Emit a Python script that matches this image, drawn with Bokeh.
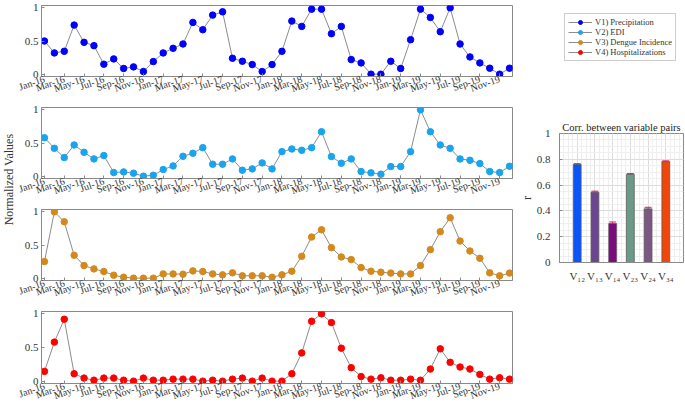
import math
from bokeh.plotting import figure
from bokeh.models import (ColumnDataSource, FixedTicker, Range1d,
                          Legend, LegendItem, Whisker, TeeHead)
from bokeh.layouts import row, column
from bokeh.embed import file_html
from bokeh.resources import INLINE
from bokeh.core.properties import value

# ---------------- data ----------------
month_index = list(range(48))  # Jan-16 ... Dec-19
tick_positions = list(range(0, 48, 2))
tick_labels = ["Jan-16", "Mar-16", "May-16", "Jul-16", "Sep-16", "Nov-16",
               "Jan-17", "Mar-17", "May-17", "Jul-17", "Sep-17", "Nov-17",
               "Jan-18", "Mar-18", "May-18", "Jul-18", "Sep-18", "Nov-18",
               "Jan-19", "Mar-19", "May-19", "Jul-19", "Sep-19", "Nov-19"]

precipitation = [0.50, 0.32, 0.345, 0.74, 0.48, 0.43, 0.15, 0.23, 0.086, 0.11, 0.04, 0.19,
                 0.32, 0.39, 0.455, 0.78, 0.67, 0.89, 0.94, 0.24, 0.195, 0.145, 0.04, 0.145,
                 0.345, 0.80, 0.72, 0.98, 0.98, 0.61, 0.72, 0.22, 0.17, 0.0, 0.0, 0.195,
                 0.086, 0.52, 0.98, 0.855, 0.64, 1.0, 0.455, 0.26, 0.17, 0.09, 0.0, 0.09]
edi = [0.58, 0.42, 0.28, 0.47, 0.36, 0.26, 0.31, 0.055, 0.064, 0.045, 0.0, 0.014,
       0.10, 0.155, 0.30, 0.345, 0.43, 0.18, 0.18, 0.26, 0.09, 0.11, 0.20, 0.11,
       0.37, 0.41, 0.39, 0.43, 0.67, 0.295, 0.195, 0.26, 0.07, 0.05, 0.03, 0.145,
       0.145, 0.37, 1.0, 0.67, 0.47, 0.42, 0.26, 0.24, 0.19, 0.07, 0.055, 0.15]
dengue = [0.25, 1.0, 0.85, 0.345, 0.19, 0.14, 0.10, 0.045, 0.014, 0.0, 0.0, 0.0,
          0.064, 0.064, 0.06, 0.11, 0.10, 0.064, 0.05, 0.08, 0.036, 0.036, 0.036, 0.014,
          0.05, 0.105, 0.33, 0.62, 0.73, 0.46, 0.32, 0.28, 0.16, 0.105, 0.09, 0.077,
          0.064, 0.064, 0.19, 0.43, 0.70, 0.91, 0.56, 0.41, 0.30, 0.08, 0.036, 0.077]
hospitalizations = [0.145, 0.58, 0.92, 0.11, 0.045, 0.014, 0.045, 0.045, 0.014, 0.0, 0.045, 0.014,
                    0.014, 0.03, 0.03, 0.03, 0.0, 0.014, 0.0, 0.03, 0.045, 0.0, 0.045, 0.0,
                    0.0, 0.11, 0.42, 0.89, 1.0, 0.87, 0.49, 0.20, 0.068, 0.03, 0.05, 0.014,
                    0.014, 0.03, 0.014, 0.18, 0.48, 0.28, 0.21, 0.18, 0.10, 0.03, 0.05, 0.03]

series_names = ["V1) Precipitation", "V2) EDI", "V3) Dengue Incidence", "V4) Hospitalizations"]
series_values = [precipitation, edi, dengue, hospitalizations]
series_colors = ["#0000ff", "#18a4ee", "#d4891c", "#ff0000"]

pair_labels = ["V\u2081\u2082", "V\u2081\u2083", "V\u2081\u2084", "V\u2082\u2083", "V\u2082\u2084", "V\u2083\u2084"]
pair_positions = [1, 2, 3, 4, 5, 6]
pair_r = [0.760, 0.545, 0.302, 0.683, 0.416, 0.782]
pair_err = [0.006, 0.008, 0.012, 0.006, 0.012, 0.006]
pair_colors = ["#0a55fa", "#6a4690", "#7c0c7e", "#6a9a88", "#7e5684", "#f0460c"]

FONT = "Times"
AXIS_COL = "#8a8a8a"
TXT_COL = "#333333"

sources = [ColumnDataSource(data=dict(x=month_index, y=v)) for v in series_values]


def style_axis(ax):
    ax.axis_line_color = AXIS_COL
    ax.major_tick_line_color = AXIS_COL
    ax.major_tick_in = 3
    ax.major_tick_out = 0
    ax.minor_tick_line_color = None
    ax.major_label_text_font = FONT
    ax.major_label_text_color = TXT_COL
    ax.major_label_text_font_size = "11px"
    ax.major_label_standoff = 3


def panel(i, height, top_border, bottom_border):
    p = figure(width=497, height=height, output_backend="svg", toolbar_location=None,
               x_range=Range1d(-0.3, 47.3), y_range=Range1d(-0.035, 1.035),
               min_border_left=25, min_border_right=1, min_border_top=top_border,
               min_border_bottom=bottom_border, outline_line_color=AXIS_COL)
    p.grid.visible = False
    src = sources[i]
    p.line("x", "y", source=src, line_color="#8c8c8c", line_width=1)
    p.scatter("x", "y", source=src, size=6.5, fill_color=series_colors[i],
              line_color=series_colors[i])
    p.xaxis.ticker = FixedTicker(ticks=tick_positions)
    p.yaxis.ticker = FixedTicker(ticks=[0, 0.5, 1])
    p.xaxis.major_label_overrides = {k: lab for k, lab in zip(tick_positions, tick_labels)}
    p.yaxis.major_label_overrides = {0: "0", 0.5: "0.5", 1: "1"}
    p.xaxis.major_label_orientation = 0.33
    style_axis(p.xaxis[0])
    style_axis(p.yaxis[0])
    p.xaxis.major_label_text_font_size = "10px"
    p.xaxis.major_label_standoff = 2
    return p


panels = [panel(0, 103, 5, 27), panel(1, 102, 4, 27),
          panel(2, 102, 4, 27), panel(3, 103, 4, 27)]

# y label column
lab = figure(width=16, height=410, output_backend="svg", toolbar_location=None,
             x_range=Range1d(0, 1), y_range=Range1d(0, 410),
             min_border=0, outline_line_color=None)
lab.axis.visible = False
lab.grid.visible = False
lab.text(x=[0.5], y=[231], text=["Normalized Values"], angle=math.pi / 2,
         text_align="center", text_baseline="middle", text_font=value(FONT),
         text_font_size="12px", text_color=TXT_COL)

# legend figure (same series sources, view moved away so only the legend shows)
leg = figure(width=172, height=118, output_backend="svg", toolbar_location=None,
             x_range=Range1d(-200, -199), y_range=Range1d(-200, -199),
             min_border_left=46, min_border_right=0, min_border_top=8,
             min_border_bottom=0, outline_line_color=None)
leg.axis.visible = False
leg.grid.visible = False
items = []
for i, name in enumerate(series_names):
    lr = leg.line("x", "y", source=sources[i], line_color="#8c8c8c", line_width=1)
    sr = leg.scatter("x", "y", source=sources[i], size=6.5, fill_color=series_colors[i],
                     line_color=series_colors[i])
    items.append(LegendItem(label=name, renderers=[lr, sr]))
legend = Legend(items=items, location="top_left", margin=5, padding=3, spacing=0,
                label_height=10, glyph_height=10, glyph_width=24, label_standoff=3,
                label_text_font=FONT, label_text_font_size="8.5px",
                label_text_color=TXT_COL, border_line_color="#9a9a9a",
                background_fill_color="white", background_fill_alpha=1)
leg.add_layout(legend)

# correlation bar chart
bsrc = ColumnDataSource(data=dict(x=pair_positions, r=pair_r, color=pair_colors,
                                  upper=[a + b for a, b in zip(pair_r, pair_err)],
                                  lower=[a - b for a, b in zip(pair_r, pair_err)]))
bp = figure(width=172, height=170, output_backend="svg", toolbar_location=None,
            x_range=Range1d(0, 7), y_range=Range1d(0, 1),
            min_border_left=35, min_border_right=2, min_border_top=8,
            min_border_bottom=26, outline_line_color=AXIS_COL,
            title="Corr. between variable pairs")
bp.title.text_font = FONT
bp.title.text_font_style = "normal"
bp.title.text_font_size = "10.5px"
bp.title.text_color = "#222222"
bp.title.align = "center"
bp.title.offset = 0
bp.title.standoff = 2
bp.vbar(x="x", top="r", width=0.44, source=bsrc, fill_color="color",
        line_color="#555555", line_alpha=0.7, line_width=1)
wh = Whisker(source=bsrc, base="x", upper="upper", lower="lower",
             line_color="#c02858", line_width=1,
             upper_head=TeeHead(size=7, line_color="#c02858", line_width=1),
             lower_head=TeeHead(size=7, line_color="#c02858", line_width=1))
bp.add_layout(wh)
bp.xaxis.ticker = FixedTicker(ticks=pair_positions,
                              minor_ticks=[k * 0.25 for k in range(0, 29)])
bp.xaxis.major_label_overrides = {k: lab_ for k, lab_ in zip(pair_positions, pair_labels)}
bp.yaxis.ticker = FixedTicker(ticks=[0, 0.2, 0.4, 0.6, 0.8, 1.0],
                              minor_ticks=[k * 0.05 for k in range(0, 21)])
bp.yaxis.major_label_overrides = {0: "0", 0.2: "0.2", 0.4: "0.4", 0.6: "0.6", 0.8: "0.8", 1: "1"}
style_axis(bp.xaxis[0])
style_axis(bp.yaxis[0])
bp.xaxis.major_tick_in = 0
bp.yaxis.major_label_standoff = 5
bp.yaxis.axis_label = "r"
bp.yaxis.axis_label_text_font = FONT
bp.yaxis.axis_label_text_font_style = "normal"
bp.yaxis.axis_label_text_font_size = "12px"
bp.yaxis.axis_label_text_color = TXT_COL
bp.yaxis.axis_label_standoff = 0
bp.xgrid.grid_line_color = "#dcdcdc"
bp.ygrid.grid_line_color = "#dcdcdc"
bp.xgrid.minor_grid_line_color = "#efefef"
bp.ygrid.minor_grid_line_color = "#efefef"

layout = row(lab, column(*panels, spacing=0), column(leg, bp, spacing=0), spacing=0)

with open("out.html", "w") as f:
    f.write(file_html(layout, INLINE))
